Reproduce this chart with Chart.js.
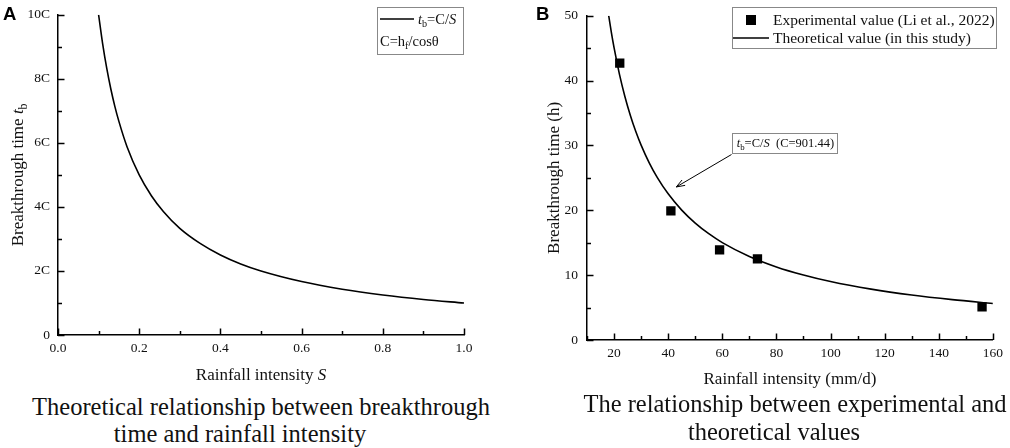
<!DOCTYPE html>
<html>
<head>
<meta charset="utf-8">
<script src="https://cdn.jsdelivr.net/npm/chart.js@4"></script>
<style>
  body { margin: 0; background: #fff; width: 1010px; height: 448px; overflow: hidden; position: relative; }
  canvas { position: absolute; top: 0; }
  .cap { position: absolute; font-family: "Liberation Serif", serif; font-size: 24.5px; color: #111; white-space: nowrap; text-align: center; width: 520px; line-height: 1; }
</style>
</head>
<body>
<canvas id="chartA" width="505" height="392" style="left:0"></canvas>
<canvas id="chartB" width="505" height="392" style="left:505px"></canvas>
<div class="cap" style="left:1px;top:395px">Theoretical relationship between breakthrough</div>
<div class="cap" style="left:-20px;top:422px">time and rainfall intensity</div>
<div class="cap" style="left:535px;top:392px">The relationship between experimental and</div>
<div class="cap" style="left:514px;top:420px">theoretical values</div>
<script>
// panel A: t_b = C/S, values in units of C
const intensityA = [0.1, 0.11, 0.12, 0.13, 0.14, 0.15, 0.17, 0.2, 0.23, 0.26, 0.3, 0.35, 0.4, 0.45, 0.5, 0.6, 0.7, 0.8, 0.9, 1.0];
const timeA = [10, 9.09, 8.33, 7.69, 7.14, 6.67, 5.88, 5, 4.35, 3.85, 3.33, 2.86, 2.5, 2.22, 2, 1.67, 1.43, 1.25, 1.11, 1];

// panel B: experimental points and the C=901.44 curve
const expIntensity = [22.1, 41.0, 59.0, 73.0, 156.0];
const expTime = [42.7, 19.9, 13.9, 12.5, 5.1];
const theoIntensity = [18.03, 19, 20, 22, 24, 26, 28, 30, 33, 36, 40, 45, 50, 55, 60, 70, 80, 90, 100, 115, 130, 145, 160];
const theoTime = [50.0, 47.44, 45.07, 40.97, 37.56, 34.67, 32.19, 30.05, 27.32, 25.04, 22.54, 20.03, 18.03, 16.39, 15.02, 12.88, 11.27, 10.02, 9.01, 7.84, 6.93, 6.22, 5.63];

const SERIF = '"Liberation Serif", "Times New Roman", serif';
const zip = (xs, ys) => xs.map((x, i) => ({ x, y: ys[i] }));

// mixed-style text: parts = [text, style], style has 'i' italic and/or 's' subscript
function rich(ctx, parts, x, y, size, align) {
  const fontOf = st => `${st.includes('i') ? 'italic ' : ''}${st.includes('s') ? size * 0.7 : size}px ${SERIF}`;
  let w = 0;
  parts.forEach(([t, st]) => { ctx.font = fontOf(st); w += ctx.measureText(t).width; });
  let cx = align === 'center' ? x - w / 2 : x;
  ctx.textAlign = 'left';
  ctx.textBaseline = 'alphabetic';
  parts.forEach(([t, st]) => {
    ctx.font = fontOf(st);
    ctx.fillText(t, cx, y + (st.includes('s') ? size * 0.22 : 0));
    cx += ctx.measureText(t).width;
  });
}

// inward major + minor ticks
function innerTicks(ctx, scale, major, minor, vertical, area) {
  ctx.strokeStyle = '#000';
  ctx.lineWidth = 1.5;
  const n = Math.round((scale.max - scale.min) / minor);
  for (let k = 0; k <= n; k++) {
    const v = scale.min + k * minor;
    const r = v / major;
    const len = Math.abs(r - Math.round(r)) < 1e-6 ? 6.5 : 4;
    const p = Math.round(scale.getPixelForValue(v)) + 0.5;
    ctx.beginPath();
    if (vertical) { ctx.moveTo(area.left, p); ctx.lineTo(area.left + len, p); }
    else { ctx.moveTo(p, area.bottom); ctx.lineTo(p, area.bottom - len); }
    ctx.stroke();
  }
}

function decor(cfg) {
  return {
    id: 'decor',
    afterDraw(chart) {
      const ctx = chart.ctx, a = chart.chartArea;
      ctx.save();
      innerTicks(ctx, chart.scales.x, cfg.xMajor, cfg.xMinor, false, a);
      innerTicks(ctx, chart.scales.y, cfg.yMajor, cfg.yMinor, true, a);
      ctx.fillStyle = '#111';
      rich(ctx, cfg.xTitle, (a.left + a.right) / 2, cfg.xTitleY, 17, 'center');
      ctx.save();
      ctx.translate(cfg.yTitleX, (a.top + a.bottom) / 2);
      ctx.rotate(-Math.PI / 2);
      rich(ctx, cfg.yTitle, 0, 0, 17, 'center');
      ctx.restore();
      ctx.font = 'bold 18.5px "Liberation Sans", Arial, sans-serif';
      ctx.fillStyle = '#000';
      ctx.textAlign = 'left';
      ctx.fillText(cfg.letter, cfg.letterX, 20);
      cfg.extra(ctx, chart);
      ctx.restore();
    }
  };
}

const baseScale = (min, max, step, cb, pad) => ({
  type: 'linear', min, max,
  grid: { display: false, drawTicks: false },
  border: { display: true, color: '#000', width: 1.5 },
  ticks: { stepSize: step, callback: cb, padding: pad, color: '#111', font: { family: SERIF, size: 13.5, lineHeight: 1 } }
});

// ---------- A ----------
const scaleAx = baseScale(0, 1, 0.2, v => v.toFixed(1), 7);
scaleAx.afterFit = s => { s.height = 57; };
const scaleAy = baseScale(0, 10, 2, v => v === 0 ? '0' : v + 'C', 8);
scaleAy.afterFit = s => { s.width = 58; };

new Chart(document.getElementById('chartA'), {
  type: 'scatter',
  data: {
    datasets: [{
      data: zip(intensityA, timeA),
      showLine: true, borderColor: '#000', borderWidth: 1.6,
      pointRadius: 0, cubicInterpolationMode: 'monotone'
    }]
  },
  options: {
    responsive: false, animation: false,
    layout: { padding: { left: 0, top: 8, right: 41, bottom: 0 } },
    plugins: { legend: { display: false }, tooltip: { enabled: false } },
    scales: { x: scaleAx, y: scaleAy }
  },
  plugins: [decor({
    xMajor: 0.2, xMinor: 0.1, yMajor: 2, yMinor: 1,
    xTitle: [['Rainfall intensity ', ''], ['S', 'i']], xTitleY: 380,
    yTitle: [['Breakthrough time ', ''], ['t', 'i'], ['b', 's']], yTitleX: 23,
    letter: 'A', letterX: 3,
    extra(ctx) {
      ctx.strokeStyle = '#888'; ctx.lineWidth = 1;
      ctx.strokeRect(377.5, 7.5, 86, 47);
      ctx.strokeStyle = '#000'; ctx.lineWidth = 1.5;
      ctx.beginPath(); ctx.moveTo(380, 19); ctx.lineTo(414, 19); ctx.stroke();
      ctx.fillStyle = '#111';
      rich(ctx, [['t', 'i'], ['b', 's'], ['=C/', ''], ['S', 'i']], 418, 24, 14.5, 'left');
      rich(ctx, [['C=h', ''], ['f', 's'], ['/cosθ', '']], 380, 46, 14.5, 'left');
    }
  })]
});

// ---------- B ----------
const scaleBx = baseScale(10, 160, 20, v => v, 7);
scaleBx.afterBuildTicks = s => { s.ticks = [20, 40, 60, 80, 100, 120, 140, 160].map(value => ({ value })); };
scaleBx.afterFit = s => { s.height = 52; };
const scaleBy = baseScale(0, 50, 10, v => v, 9);
scaleBy.afterFit = s => { s.width = 82; };

new Chart(document.getElementById('chartB'), {
  type: 'scatter',
  data: {
    datasets: [{
      label: 'Experimental value (Li et al., 2022)',
      data: zip(expIntensity, expTime),
      pointStyle: 'rect', pointRadius: 6.6, backgroundColor: '#000', borderColor: '#000', borderWidth: 0
    }, {
      label: 'Theoretical value (in this study)',
      data: zip(theoIntensity, theoTime),
      showLine: true, borderColor: '#000', borderWidth: 1.6,
      pointRadius: 0, cubicInterpolationMode: 'monotone'
    }]
  },
  options: {
    responsive: false, animation: false,
    layout: { padding: { left: 0, top: 8, right: 13, bottom: 0 } },
    plugins: { legend: { display: false }, tooltip: { enabled: false } },
    scales: { x: scaleBx, y: scaleBy }
  },
  plugins: [decor({
    xMajor: 20, xMinor: 10, yMajor: 10, yMinor: 5,
    xTitle: [['Rainfall intensity (mm/d)', '']], xTitleY: 384,
    yTitle: [['Breakthrough time (h)', '']], yTitleX: 54,
    letter: 'B', letterX: 31,
    extra(ctx, chart) {
      const ox = 505;
      // legend
      ctx.strokeStyle = '#888'; ctx.lineWidth = 1;
      ctx.strokeRect(732.5 - ox, 7.5, 264, 41);
      ctx.fillStyle = '#000';
      ctx.fillRect(746 - ox, 15, 10, 10);
      ctx.strokeStyle = '#000'; ctx.lineWidth = 1.5;
      ctx.beginPath(); ctx.moveTo(733 - ox, 38); ctx.lineTo(769 - ox, 38); ctx.stroke();
      ctx.fillStyle = '#111';
      rich(ctx, [[chart.data.datasets[0].label, '']], 773 - ox, 25, 15.5, 'left');
      rich(ctx, [[chart.data.datasets[1].label, '']], 773 - ox, 43, 15.5, 'left');
      // annotation box and arrow
      const sx = chart.scales.x, sy = chart.scales.y;
      const bx = sx.getPixelForValue(63.5), by = sy.getPixelForValue(31.9);
      ctx.strokeStyle = '#888'; ctx.lineWidth = 1;
      ctx.strokeRect(Math.round(bx) + 0.5, Math.round(by) + 0.5, 105, 20);
      ctx.fillStyle = '#111';
      rich(ctx, [['t', 'i'], ['b', 's'], ['=C/', ''], ['S', 'i'], ['  (C=901.44)', '']], bx + 5, by + 14, 12.5, 'left');
      const x0 = sx.getPixelForValue(63.4), y0 = sy.getPixelForValue(28.6);
      const x1 = sx.getPixelForValue(43.0), y1 = sy.getPixelForValue(23.6);
      ctx.strokeStyle = '#000'; ctx.lineWidth = 1;
      ctx.beginPath(); ctx.moveTo(x0, y0); ctx.lineTo(x1, y1); ctx.stroke();
      const ang = Math.atan2(y1 - y0, x1 - x0);
      ctx.beginPath();
      ctx.moveTo(x1 - 9 * Math.cos(ang - 0.35), y1 - 9 * Math.sin(ang - 0.35));
      ctx.lineTo(x1, y1);
      ctx.lineTo(x1 - 9 * Math.cos(ang + 0.35), y1 - 9 * Math.sin(ang + 0.35));
      ctx.stroke();
    }
  })]
});
</script>
</body>
</html>
